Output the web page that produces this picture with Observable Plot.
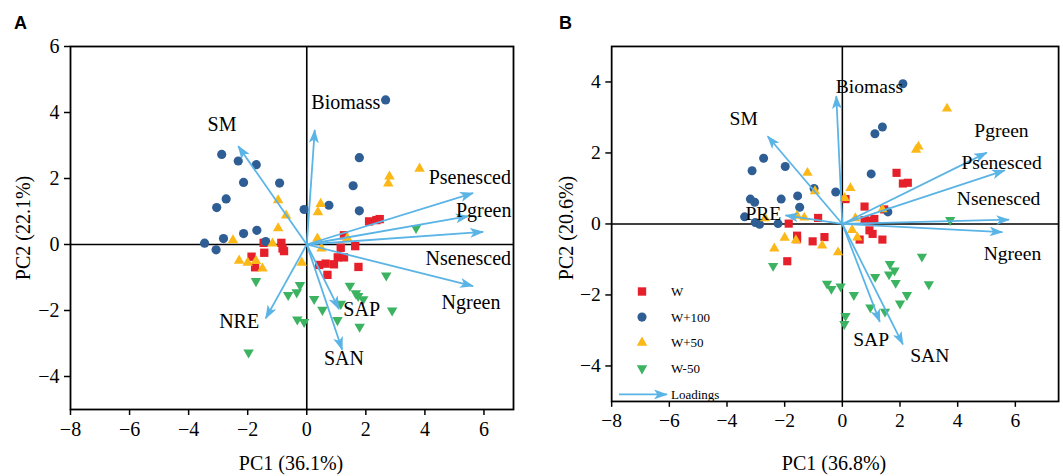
<!DOCTYPE html>
<html>
<head>
<meta charset="utf-8">
<script src="https://cdn.jsdelivr.net/npm/d3@7"></script>
<script src="https://cdn.jsdelivr.net/npm/@observablehq/plot@0.6"></script>
<style>
  html, body { margin: 0; padding: 0; background: #fff; }
  #wrap { position: relative; width: 1063px; height: 476px; overflow: hidden; font-family: "Liberation Serif", "Times New Roman", serif; }
  .panel { position: absolute; top: 0; }
  .panel svg text { font-family: "Liberation Serif", "Times New Roman", serif; }
  .tag { position: absolute; font-family: "Liberation Sans", Arial, sans-serif; font-weight: bold; font-size: 18px; line-height: 1; }
  .ttl { position: absolute; font-size: 20px; white-space: nowrap; transform: translate(-50%, -50%); line-height: 1; }
  .ttl.rot { transform: translate(-50%, -50%) rotate(-90deg); }
</style>
</head>
<body>
<div id="wrap">
  <div class="panel" id="pA" style="left:0px"></div>
  <div class="panel" id="pB" style="left:530px"></div>
  <div class="tag" style="left:14px;top:14px">A</div>
  <div class="tag" style="left:559px;top:14px">B</div>
  <div class="ttl" style="left:291px;top:463px">PC1 (36.1%)</div>
  <div class="ttl rot" style="left:23px;top:228px">PC2 (22.1%)</div>
  <div class="ttl" style="left:834px;top:463px">PC1 (36.8%)</div>
  <div class="ttl rot" style="left:566px;top:228px">PC2 (20.6%)</div>
</div>
<script>
// ---------------- Panel A data ----------------
const groups = ["W", "W+100", "W+50", "W-50"];
const colors = ["#e5202a", "#2f5e94", "#fbb816", "#3cb361"];
const arrowColor = "#5ab4e6";
const serif = "'Liberation Serif', 'Times New Roman', serif";

const A_W_x = [2.11, 2.36, 2.47, 1.26, 1.15, 1.64, -1.46, -0.86, -0.82, -0.77, -1.44, -1.87, -1.75, 0.42, 0.64, 0.92, 1.05, 1.26, 0.70, 1.75];
const A_W_y = [0.70, 0.74, 0.77, 0.28, -0.10, -0.05, 0.05, 0.05, -0.12, -0.20, -0.25, -0.37, -0.69, -0.62, -0.58, -0.60, -0.39, -0.39, -0.92, -0.68];
const A_W100_x = [2.67, -2.88, -2.32, -1.71, -2.14, -0.92, -2.73, -3.05, -0.09, 0.75, 1.78, 1.57, 1.78, -2.14, -1.69, -2.82, -3.46, -3.07, -1.39];
const A_W100_y = [4.38, 2.73, 2.53, 2.42, 1.88, 1.86, 1.38, 1.12, 1.06, 1.19, 2.63, 1.78, 1.02, 0.33, 0.43, 0.18, 0.04, -0.16, 0.09];
const A_W50_x = [3.82, 2.80, 2.76, 0.47, 0.38, -0.97, -0.70, -0.97, -2.50, -1.16, 0.36, 1.37, 0.50, -2.29, -2.00, -1.72, -1.50, -0.17];
const A_W50_y = [2.30, 2.06, 1.85, 1.23, 0.98, 1.34, 0.88, 0.49, 0.13, 0.03, 0.18, 0.19, -0.12, -0.49, -0.55, -0.50, -0.73, -0.55];
const A_Wm50_x = [3.70, 2.69, 2.89, -1.72, -0.23, -0.34, -0.63, 1.46, 1.66, 1.74, 1.91, 0.25, 0.53, 1.15, 1.04, -0.32, -0.09, 1.79, -1.97];
const A_Wm50_y = [0.50, -0.94, -2.00, -1.11, -1.23, -1.45, -1.53, -1.25, -1.48, -1.56, -1.66, -1.65, -1.98, -1.80, -2.29, -2.27, -2.35, -2.49, -3.27];

const A_vars = ["Biomass", "SM", "Psenesced", "Pgreen", "Nsenesced", "Ngreen", "NRE", "SAP", "SAN"];
const A_load_x = [0.27, -2.32, 5.63, 5.48, 5.97, 5.63, -1.39, 1.09, 1.20];
const A_load_y = [3.47, 2.98, 1.56, 0.86, 0.38, -1.26, -2.24, -1.96, -3.19];
const A_lab_x = [1.32, -2.87, 5.52, 5.99, 5.47, 5.56, -2.29, 1.86, 1.26];
const A_lab_y = [4.31, 3.64, 2.04, 1.04, -0.43, -1.75, -2.34, -1.98, -3.46];
const A_lab_anchor = ["middle", "middle", "middle", "middle", "middle", "middle", "middle", "middle", "middle"];

// ---------------- Panel B data ----------------
const B_W_x = [1.88, 2.10, 2.27, 0.11, 0.77, 1.45, 0.77, 0.94, 1.11, -0.84, -1.86, 0.94, 1.05, 1.39, 0.60, -1.57, -1.57, -1.03, -0.62, -1.91];
const B_W_y = [1.44, 1.14, 1.16, 0.70, 0.49, 0.41, 0.11, 0.09, 0.14, 0.17, 0.01, -0.18, -0.28, -0.44, -0.44, -0.33, -0.43, -0.49, -0.37, -1.05];
const B_W100_x = [2.10, 1.39, 1.13, 1.00, 1.58, -2.73, -3.13, -1.98, -0.98, -0.23, -3.19, -3.04, -2.12, -1.55, -1.48, -3.39, -3.02, -2.87, -2.23];
const B_W100_y = [3.95, 2.73, 2.54, 1.41, 0.34, 1.85, 1.50, 1.62, 1.00, 0.90, 0.70, 0.61, 0.70, 0.79, 0.47, 0.20, 0.04, -0.01, 0.01];
const B_W50_x = [3.63, 2.64, 2.56, -1.21, -0.95, 0.28, 0.08, -2.68, -1.57, -1.32, 0.45, 1.39, 0.34, 0.52, -2.00, -1.61, -2.36, -0.70, -0.15];
const B_W50_y = [3.25, 2.18, 2.09, 1.44, 0.92, 1.01, 0.73, 0.16, 0.23, 0.18, 0.16, 0.41, -0.17, -0.38, -0.39, -0.46, -0.69, -0.61, -0.80];
const B_Wm50_x = [3.74, 2.76, 3.00, -2.40, 1.65, 1.81, 1.62, 1.14, 1.85, -0.53, -0.38, -0.06, 0.40, 2.24, 2.00, 0.97, 1.48, 0.11, 0.07];
const B_Wm50_y = [0.11, -0.92, -1.70, -1.18, -1.13, -1.31, -1.42, -1.49, -1.66, -1.68, -1.83, -1.76, -2.00, -2.00, -2.24, -2.35, -2.47, -2.59, -2.82];

const B_vars = ["Biomass", "SM", "PRE", "Pgreen", "Psenesced", "Nsenesced", "Ngreen", "SAP", "SAN"];
const B_load_x = [-0.21, -2.59, -1.97, 5.01, 5.63, 5.78, 5.55, 1.30, 2.10];
const B_load_y = [3.60, 2.47, 0.24, 2.01, 1.51, 0.12, -0.23, -2.76, -3.39];
const B_lab_x = [0.94, -3.42, -2.74, 5.52, 4.13, 3.97, 4.90, 1.00, 3.03];
const B_lab_y = [3.86, 2.95, 0.30, 2.63, 1.72, 0.70, -0.85, -3.25, -3.71];
const B_lab_anchor = ["middle", "middle", "middle", "middle", "start", "start", "start", "middle", "middle"];

// ---------------- helpers ----------------
const fmt = d => d < 0 ? "\u2212" + Math.abs(d) : String(d);
const pts = (xs, ys) => xs.map((x, i) => ({x, y: ys[i]}));
const loads = (names, lx, ly, tx, ty, anc) => names.map((n, i) => ({name: n, x: lx[i], y: ly[i], tx: tx[i], ty: ty[i], anchor: anc[i]}));

function addMarker(svgNode, id) {
  const ns = "http://www.w3.org/2000/svg";
  const defs = document.createElementNS(ns, "defs");
  const marker = document.createElementNS(ns, "marker");
  marker.setAttribute("id", id);
  marker.setAttribute("viewBox", "0 0 14 10");
  marker.setAttribute("refX", "13");
  marker.setAttribute("refY", "5");
  marker.setAttribute("markerWidth", "14");
  marker.setAttribute("markerHeight", "10");
  marker.setAttribute("markerUnits", "userSpaceOnUse");
  marker.setAttribute("orient", "auto");
  const p = document.createElementNS(ns, "path");
  p.setAttribute("d", "M0,0 L14,5 L0,10 L3.5,5 Z");
  p.setAttribute("fill", arrowColor);
  p.setAttribute("stroke", "none");
  marker.appendChild(p);
  defs.appendChild(marker);
  svgNode.insertBefore(defs, svgNode.firstChild);
}

function biplot(cfg) {
  const L = loads(cfg.vars, cfg.lx, cfg.ly, cfg.tx, cfg.ty, cfg.anchor);
  const series = [cfg.W, cfg.W100, cfg.W50, cfg.Wm50];
  const symbols = ["square", "circle", "triangle", "triangle"];
  const radius = [4.7, 4.6, 3.9, 3.9];
  const dotMarks = series.map((data, k) => Plot.dot(data, {
    x: "x", y: "y", symbol: symbols[k], r: radius[k], fill: colors[k], stroke: "none",
    rotate: k === 3 ? 180 : 0
  }));
  const svg = Plot.plot({
    width: cfg.width, height: 476,
    marginLeft: cfg.ml, marginRight: cfg.mr, marginTop: cfg.mt, marginBottom: cfg.mb,
    style: {fontFamily: serif, fontSize: "20px", color: "black", background: "white", overflow: "visible"},
    x: {domain: cfg.xd, label: null},
    y: {domain: cfg.yd, label: null},
    marks: [
      Plot.ruleX([0], {stroke: "black", strokeWidth: 1.6}),
      Plot.ruleY([0], {stroke: "black", strokeWidth: 1.6}),
      ...dotMarks,
      Plot.link(L, {x1: () => 0, y1: () => 0, x2: "x", y2: "y", stroke: arrowColor, strokeWidth: 1.8}),
      Plot.text(L.filter(d => d.anchor === "middle"), {x: "tx", y: "ty", text: "name", textAnchor: "middle", fill: "black", fontSize: 20, fontFamily: serif}),
      Plot.text(L.filter(d => d.anchor === "start"), {x: "tx", y: "ty", text: "name", textAnchor: "start", fill: "black", fontSize: 20, fontFamily: serif}),
      Plot.frame({stroke: "black", strokeWidth: 1.8}),
      Plot.axisX({ticks: [-8, -6, -4, -2, 0, 2, 4, 6], tickFormat: fmt, tickSize: 6, tickPadding: 6, fontSize: 20, fontFamily: serif, label: null, strokeWidth: 1.5}),
      Plot.axisY({ticks: cfg.yticks, tickFormat: fmt, tickSize: 6, tickPadding: 5, fontSize: 20, fontFamily: serif, label: null, strokeWidth: 1.5})
    ]
  });
  const id = "ah" + cfg.id;
  addMarker(svg, id);
  svg.querySelectorAll('g[aria-label="link"] path, g[aria-label="link"] line').forEach(el => el.setAttribute("marker-end", `url(#${id})`));
  return svg;
}

document.getElementById("pA").appendChild(biplot({
  id: "A", width: 530, ml: 70, mr: 17, mt: 46, mb: 67,
  xd: [-8, 7], yd: [-5, 6], yticks: [-4, -2, 0, 2, 4, 6],
  W: pts(A_W_x, A_W_y), W100: pts(A_W100_x, A_W100_y), W50: pts(A_W50_x, A_W50_y), Wm50: pts(A_Wm50_x, A_Wm50_y),
  vars: A_vars, lx: A_load_x, ly: A_load_y, tx: A_lab_x, ty: A_lab_y, anchor: A_lab_anchor
}));
document.getElementById("pB").appendChild(biplot({
  id: "B", width: 545, ml: 83, mr: 5, mt: 47, mb: 66,
  xd: [-8, 7.5], yd: [-5, 5], yticks: [-4, -2, 0, 2, 4],
  W: pts(B_W_x, B_W_y), W100: pts(B_W100_x, B_W100_y), W50: pts(B_W50_x, B_W50_y), Wm50: pts(B_Wm50_x, B_Wm50_y),
  vars: B_vars, lx: B_load_x, ly: B_load_y, tx: B_lab_x, ty: B_lab_y, anchor: B_lab_anchor
}));

// ---------------- legend (panel B) ----------------
(function legend() {
  const legendLabels = groups.concat(["Loadings"]);
  const rowH = 25.6;
  const svg = d3.create("svg").attr("width", 120).attr("height", 130)
    .style("position", "absolute").style("left", "612px").style("top", "279px")
    .style("font-family", serif).style("font-size", "13px");
  const sym = [d3.symbolSquare, d3.symbolCircle, d3.symbolTriangle, d3.symbolTriangle];
  const sizes = [70, 66, 48, 48];
  groups.forEach((g, i) => {
    const cy = 12.5 + i * rowH;
    svg.append("path").attr("d", d3.symbol(sym[i], sizes[i])())
      .attr("transform", `translate(30,${cy})${i === 3 ? " rotate(180)" : ""}`)
      .attr("fill", colors[i]);
    svg.append("text").attr("x", 59).attr("y", cy).attr("dy", "0.35em").text(g);
  });
  const ay = 12.5 + 4 * rowH + 0.5;
  addMarker(svg.node(), "ahL");
  svg.append("line").attr("x1", 7).attr("x2", 55).attr("y1", ay).attr("y2", ay)
    .attr("stroke", arrowColor).attr("stroke-width", 1.8).attr("marker-end", "url(#ahL)");
  svg.append("text").attr("x", 59).attr("y", ay).attr("dy", "0.35em").text(legendLabels[4]);
  document.getElementById("wrap").appendChild(svg.node());
})();
</script>
</body>
</html>
